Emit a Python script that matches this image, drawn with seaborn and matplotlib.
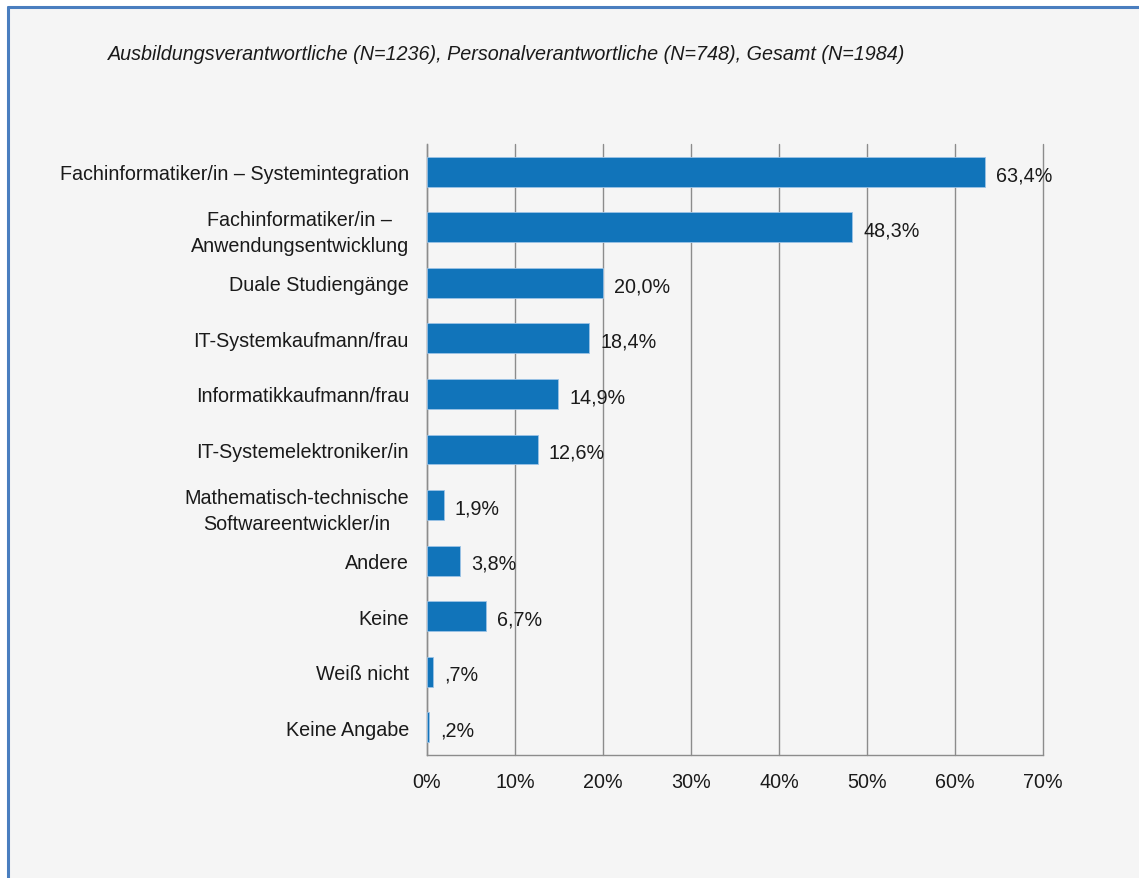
import numpy as np
import pandas as pd
import seaborn as sns
import matplotlib.pyplot as plt
from matplotlib.ticker import FixedLocator, PercentFormatter
from matplotlib.lines import Line2D

categories = ['Fachinformatiker/in – Systemintegration',
              'Fachinformatiker/in –\nAnwendungsentwicklung',
              'Duale Studiengänge',
              'IT-Systemkaufmann/frau',
              'Informatikkaufmann/frau',
              'IT-Systemelektroniker/in',
              'Mathematisch-technische\nSoftwareentwickler/in',
              'Andere',
              'Keine',
              'Weiß nicht',
              'Keine Angabe']
values = [63.4, 48.3, 20.0, 18.4, 14.9, 12.6, 1.9, 3.8, 6.7, 0.7, 0.2]
value_labels = ['63,4%', '48,3%', '20,0%', '18,4%', '14,9%', '12,6%',
                '1,9%', '3,8%', '6,7%', ',7%', ',2%']
x_ticks = [0, 10, 20, 30, 40, 50, 60, 70]
title = 'Ausbildungsverantwortliche (N=1236), Personalverantwortliche (N=748), Gesamt (N=1984)'

df = pd.DataFrame({'kategorie': categories, 'wert': values})

sns.set_style('white')
plt.rcParams['font.family'] = ['Liberation Sans', 'DejaVu Sans']

bg = '#f5f5f5'
grey = '#8c8c8c'
fs = 14.2
fig = plt.figure(figsize=(11.39, 8.79), dpi=100, facecolor='white')

# panel background with blue frame on left/top
panel = fig.add_axes([0, 0, 1, 1], zorder=-5)
panel.set_xlim(0, 1139)
panel.set_ylim(879, 0)
panel.axis('off')
panel.add_patch(plt.Rectangle((8, 8), 1139, 879, facecolor=bg, edgecolor='none'))
panel.add_line(Line2D([8, 8], [7.5, 879], color='#4a7ebf', lw=2.2))
panel.add_line(Line2D([7.5, 1139], [8, 8], color='#4a7ebf', lw=2.2))

ax = fig.add_axes([427 / 1139, 1 - 756 / 879, 616 / 1139, 611 / 879])
ax.set_facecolor(bg)
sns.barplot(data=df, x='wert', y='kategorie', orient='h', color='#1174ba',
            saturation=1, width=0.54, edgecolor='#9cc3e6', linewidth=0.6,
            ax=ax, zorder=3)

ax.set_xlim(0, 70)
ax.set_ylim(len(categories) - 0.5, -0.5)
ax.xaxis.set_major_locator(FixedLocator(x_ticks))
ax.xaxis.set_major_formatter(PercentFormatter(decimals=0))
ax.grid(axis='x', color=grey, lw=1.0, zorder=0)
ax.set_axisbelow(True)
for gl in ax.get_xgridlines():
    gl.set_clip_on(False)

for i, (v, lab) in enumerate(zip(values, value_labels)):
    ax.annotate(lab, (v, i), xytext=(8, -2), textcoords='offset points',
                va='center', ha='left', fontsize=fs, color='#1a1a1a')

ax.set_xlabel('')
ax.set_ylabel('')
ax.tick_params(axis='y', which='major', length=0, pad=13, labelsize=fs,
               labelcolor='#1a1a1a')
ax.yaxis.set_minor_locator(FixedLocator(np.arange(-0.5, len(categories), 1)))
ax.tick_params(axis='y', which='minor', length=6, color=grey, width=1)
ax.tick_params(axis='x', which='major', length=6, color=grey, width=1,
               labelsize=fs, labelcolor='#1a1a1a', pad=6)
for lab in ax.get_yticklabels():
    lab.set_multialignment('center')
    lab.set_linespacing(1.45)

for side in ['top', 'right']:
    ax.spines[side].set_visible(False)
for side in ['left', 'bottom']:
    ax.spines[side].set_color(grey)
    ax.spines[side].set_linewidth(1.0)

fig.text(108 / 1139, 1 - 55 / 879, title, fontsize=fs, style='italic',
         color='#1a1a1a', va='center', ha='left')

fig.savefig('out.png', dpi=100, facecolor='white')
